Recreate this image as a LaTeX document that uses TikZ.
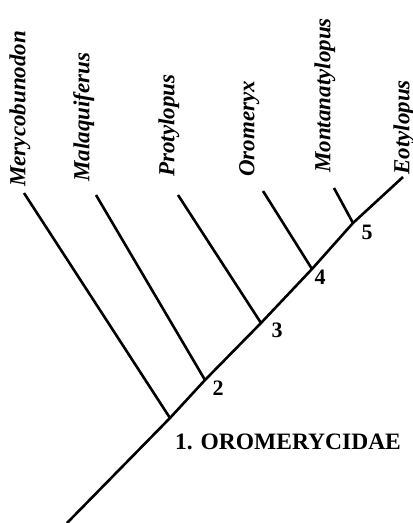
\documentclass[tikz,border=0pt]{standalone}
\usepackage{fontspec}
\setmainfont{Liberation Serif}
\begin{document}
\begin{tikzpicture}[x=1pt,y=-1pt,
  branch/.style={line width=2.6pt,line cap=butt,line join=miter,black},
  taxon/.style={rotate=90,anchor=west,inner sep=0pt,
    font=\fontsize{23}{23}\selectfont\bfseries\itshape,
    text height=0.69em,text depth=0.22em},
  cladenum/.style={inner sep=0pt,font=\fontsize{22}{22}\selectfont\bfseries},
  cladename/.style={cladenum,anchor=west,font=\fontsize{23.5}{23.5}\selectfont\bfseries}]
\useasboundingbox (0,0) rectangle (413,523);

% junctions along the main stem
\coordinate (root) at (67,523);
\coordinate (n1) at (170,418);
\coordinate (n2) at (205,380);
\coordinate (n3) at (261,323);
\coordinate (n4) at (312,269);
\coordinate (n5) at (353,223);

% branch tips
\coordinate (t1) at (24,193);
\coordinate (t2) at (96,195);
\coordinate (t3) at (178,195);
\coordinate (t4) at (263,191);
\coordinate (t5) at (334,188);
\coordinate (t6) at (403,177);

% stem and side branches
\draw[branch] (root) -- (n1) -- (n2) -- (n3) -- (n4) -- (n5) -- (t6);
\draw[branch] (n1) -- (t1);
\draw[branch] (n2) -- (t2);
\draw[branch] (n3) -- (t3);
\draw[branch] (n4) -- (t4);
\draw[branch] (n5) -- (t5);

% taxon names
\node[taxon] (merycobunodon) at (23,187) {Merycobunodon};
\node[taxon] (malaquiferus) at (87,182) {Malaquiferus};
\node[taxon] (protylopus) at (172,177) {Protylopus};
\node[taxon] (oromeryx) at (252,177) {Oromeryx};
\node[taxon] (montanatylopus) at (328,173) {Montanatylopus};
\node[taxon] (eotylopus) at (407,175) {Eotylopus};

% clade numbers
\node[cladename] (c1) at (175,442) {1. OROMERYCIDAE};
\node[cladenum] (c2) at (218,388) {2};
\node[cladenum] (c3) at (277,330) {3};
\node[cladenum] (c4) at (320,277) {4};
\node[cladenum] (c5) at (367,232) {5};
\end{tikzpicture}
\end{document}
